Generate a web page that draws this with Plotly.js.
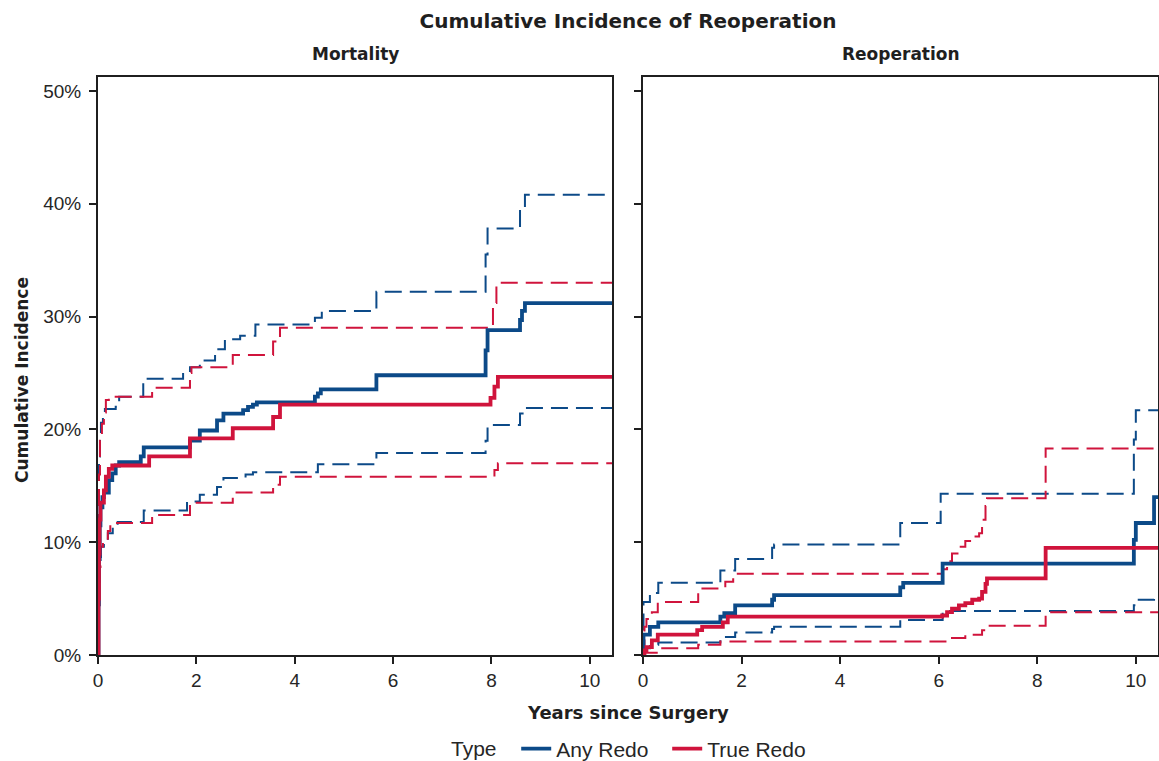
<!DOCTYPE html>
<html>
<head>
<meta charset="utf-8">
<script src="https://cdn.plot.ly/plotly-3.0.1.min.js"></script>
<style>html,body{margin:0;padding:0;background:#fff;}#chart{width:1159px;height:761px;}</style>
</head>
<body>
<div id="chart"></div>
<script>
// ---------- DATA (years since surgery, cumulative incidence in %) ----------
const panelTitles = ["Mortality", "Reoperation"];
const typeNames = ["Any Redo", "True Redo"];
const xTicks = [0, 2, 4, 6, 8, 10];
const yTicks = [0, 10, 20, 30, 40, 50];
const yTickText = ["0%", "10%", "20%", "30%", "40%", "50%"];

// Mortality – Any Redo
const mortAnyEstT = [0,0.01,0.02,0.035,0.05,0.09,0.12,0.22,0.29,0.36,0.43,0.87,0.93,1.87,2.07,2.42,2.55,2.95,3.05,3.15,3.23,4.41,4.47,4.53,5.66,7.88,7.92,8.58,8.62,8.68,10.45];
const mortAnyEstV = [0,4.5,8.5,11.5,13.1,14.0,14.4,15.5,16.1,16.8,17.1,17.6,18.4,19.0,19.9,20.8,21.4,21.7,22.0,22.2,22.4,22.9,23.2,23.55,24.8,27.0,28.8,29.7,30.5,31.2,31.2];
const mortAnyHiT = [0,0.01,0.02,0.04,0.06,0.1,0.14,0.36,0.43,0.92,1.73,1.87,2.07,2.38,2.58,2.89,3.2,4.41,4.55,5.66,7.88,7.92,8.58,8.68,10.45];
const mortAnyHiV = [0,10,17.6,19.3,20.6,21.4,21.8,22.0,22.9,24.5,25.0,25.5,26.1,27.1,28.0,28.3,29.3,29.9,30.5,32.2,35.5,37.8,39.5,40.8,40.8];
const mortAnyLoT = [0,0.01,0.02,0.04,0.06,0.12,0.2,0.3,0.4,0.93,1.81,2.07,2.42,2.55,3.0,3.15,4.47,5.66,7.88,7.92,8.58,8.68,10.45];
const mortAnyLoV = [0,3,6.5,8.5,9.6,10.3,10.8,11.3,11.8,12.8,13.6,14.2,14.9,15.7,16.0,16.2,16.9,17.9,19.0,20.4,21.4,21.9,21.9];

// Mortality – True Redo
const mortTrueEstT = [0,0.01,0.02,0.03,0.05,0.12,0.16,0.22,0.29,1.04,1.87,2.74,3.56,3.7,7.98,8.06,8.13,10.45];
const mortTrueEstV = [0,5,9,12,13.5,14.6,15.8,16.5,16.8,17.6,19.2,20.1,21.1,22.2,22.8,23.8,24.65,24.65];
const mortTrueHiT = [0,0.01,0.02,0.04,0.08,0.12,0.16,0.22,1.1,1.87,1.9,2.74,3.56,3.7,8.03,8.1,10.45];
const mortTrueHiV = [0,12,16,19,20.5,21.5,22.6,22.9,23.7,25.0,25.5,26.6,27.8,29.0,31.2,33.0,33.0];
const mortTrueLoT = [0,0.01,0.02,0.05,0.1,0.2,0.25,1.1,1.87,2.74,3.56,3.7,8.06,8.13,10.45];
const mortTrueLoV = [0,3,7.8,9.6,10.0,11.0,11.7,12.4,13.5,14.4,15.1,15.8,16.4,17.0,17.0];

// Reoperation – Any Redo
const reopAnyEstT = [0,0.01,0.14,0.31,1.57,1.65,1.87,2.62,2.66,5.22,5.28,6.08,9.96,10.0,10.37,10.45];
const reopAnyEstV = [0,1.8,2.5,2.9,3.4,3.7,4.4,4.9,5.3,6.0,6.4,8.1,10.2,11.7,14.0,14.0];
const reopAnyHiT = [0,0.01,0.14,0.31,1.57,1.87,2.62,2.66,5.22,6.04,9.96,10.0,10.45];
const reopAnyHiV = [0,4.7,5.5,6.4,7.5,8.5,9.5,9.8,11.7,14.3,19.1,21.7,21.7];
const reopAnyLoT = [0,0.01,0.14,0.31,1.57,1.65,1.87,2.62,2.66,5.22,6.08,9.96,10.0,10.37,10.45];
const reopAnyLoV = [0,0.6,0.9,1.1,1.4,1.6,2.0,2.3,2.5,3.1,3.9,4.4,4.9,5.1,5.1];

// Reoperation – True Redo
const reopTrueEstT = [0,0.03,0.07,0.18,0.3,1.1,1.2,1.62,1.72,6.07,6.17,6.27,6.41,6.54,6.68,6.82,6.88,6.95,6.98,8.17,10.45];
const reopTrueEstV = [0,0.4,0.7,1.3,1.8,2.2,2.5,2.9,3.4,3.5,3.8,4.1,4.4,4.6,4.9,5.0,5.6,6.3,6.8,9.5,9.5];
const reopTrueHiT = [0,0.03,0.07,0.18,0.3,1.12,1.67,1.83,6.07,6.17,6.27,6.41,6.54,6.68,6.82,6.88,6.95,6.98,8.17,10.45];
const reopTrueHiV = [0,2.5,3.2,3.8,4.7,5.9,6.5,7.2,7.6,8.3,9.0,9.6,10.1,10.5,10.8,12.0,13.2,13.9,18.3,18.3];
const reopTrueLoT = [0,0.03,0.3,1.12,1.57,6.27,6.54,6.88,6.95,8.17,10.45];
const reopTrueLoV = [0,0.2,0.6,0.9,1.2,1.5,1.8,2.2,2.6,3.8,3.8];

// ---------- STYLE ----------
const BLUE = '#0C4A88';
const RED = '#D0143C';
const INK = '#1f1f1f';
const BOLD = 'DejaVu Sans, sans-serif';
const REG = 'Liberation Sans, Arial, sans-serif';
const DASH = '17px,8px';

function step(x, y, color, dash, xa, ya, name, showLegend) {
  return {
    type: 'scatter', mode: 'lines', x: x, y: y, xaxis: xa, yaxis: ya,
    name: name, legendgroup: name, showlegend: !!showLegend,
    line: {shape: 'hv', color: color, width: dash ? 2 : 3.8, dash: dash ? DASH : 'solid'},
    hoverinfo: 'skip'
  };
}

const traces = [
  // Mortality panel
  step(mortAnyHiT, mortAnyHiV, BLUE, true, 'x', 'y', typeNames[0]),
  step(mortAnyLoT, mortAnyLoV, BLUE, true, 'x', 'y', typeNames[0]),
  step(mortTrueHiT, mortTrueHiV, RED, true, 'x', 'y', typeNames[1]),
  step(mortTrueLoT, mortTrueLoV, RED, true, 'x', 'y', typeNames[1]),
  step(mortAnyEstT, mortAnyEstV, BLUE, false, 'x', 'y', typeNames[0], true),
  step(mortTrueEstT, mortTrueEstV, RED, false, 'x', 'y', typeNames[1], true),
  // Reoperation panel
  step(reopAnyHiT, reopAnyHiV, BLUE, true, 'x2', 'y2', typeNames[0]),
  step(reopAnyLoT, reopAnyLoV, BLUE, true, 'x2', 'y2', typeNames[0]),
  step(reopTrueHiT, reopTrueHiV, RED, true, 'x2', 'y2', typeNames[1]),
  step(reopTrueLoT, reopTrueLoV, RED, true, 'x2', 'y2', typeNames[1]),
  step(reopAnyEstT, reopAnyEstV, BLUE, false, 'x2', 'y2', typeNames[0]),
  step(reopTrueEstT, reopTrueEstV, RED, false, 'x2', 'y2', typeNames[1])
];

const W = 1159, H = 761, ML = 98, MR = 1, MT = 77, MB = 106;
const PW = W - ML - MR, PH = H - MT - MB;
const leftDom = [0, (612 - ML) / PW];
const rightDom = [(643 - ML) / PW, 1];

function xAxis(dom, anchor) {
  return {
    domain: dom, anchor: anchor, range: [0, 10.45],
    tickmode: 'array', tickvals: xTicks, ticks: 'outside', ticklen: 7, tickwidth: 2, tickcolor: INK,
    showline: true, mirror: true, linecolor: INK, linewidth: 2,
    showgrid: false, zeroline: false, automargin: false,
    tickfont: {family: REG, size: 19, color: '#262626'}
  };
}
function yAxis(anchor, labels) {
  return {
    anchor: anchor, domain: [0, 1], range: [0, 51.24],
    tickmode: 'array', tickvals: yTicks, ticktext: yTickText, showticklabels: labels,
    ticks: 'outside', ticklen: 7, tickwidth: 2, tickcolor: INK, ticklabelstandoff: 4,
    showline: true, mirror: true, linecolor: INK, linewidth: 2,
    showgrid: false, zeroline: false, automargin: false,
    tickfont: {family: REG, size: 19, color: '#262626'}
  };
}

const layout = {
  width: W, height: H,
  margin: {l: ML, r: MR, t: MT, b: MB, pad: 0, autoexpand: false},
  paper_bgcolor: '#ffffff', plot_bgcolor: '#ffffff',
  title: {text: 'Cumulative Incidence of Reoperation', x: 0.5, xref: 'paper', y: 1 - 21 / H, yref: 'container', yanchor: 'middle', xanchor: 'center',
          font: {family: BOLD, size: 20, color: INK, weight: 'bold'}},
  xaxis: xAxis(leftDom, 'y'),
  yaxis: yAxis('x', true),
  xaxis2: xAxis(rightDom, 'y2'),
  yaxis2: yAxis('x2', false),
  showlegend: true,
  legend: {
    orientation: 'h', x: (449 - ML) / PW, xanchor: 'left', y: (655 - 749) / PH, yanchor: 'middle', yref: 'paper',
    title: {text: 'Type  ', side: 'left', font: {family: REG, size: 21, color: '#262626'}},
    font: {family: REG, size: 21, color: '#262626'},
    itemwidth: 30, entrywidth: 106, entrywidthmode: 'pixels', tracegroupgap: 0, bgcolor: 'rgba(0,0,0,0)'
  },
  annotations: [
    {text: panelTitles[0], xref: 'paper', yref: 'paper', x: (leftDom[0] + leftDom[1]) / 2, y: (655 - 54) / PH, xanchor: 'center', yanchor: 'middle', showarrow: false,
     font: {family: BOLD, size: 17, color: INK, weight: 'bold'}},
    {text: panelTitles[1], xref: 'paper', yref: 'paper', x: (rightDom[0] + rightDom[1]) / 2, y: (655 - 54) / PH, xanchor: 'center', yanchor: 'middle', showarrow: false,
     font: {family: BOLD, size: 17, color: INK, weight: 'bold'}},
    {text: 'Years since Surgery', xref: 'paper', yref: 'paper', x: 0.5, y: (655 - 712) / PH, xanchor: 'center', yanchor: 'middle', showarrow: false,
     font: {family: BOLD, size: 18, color: INK, weight: 'bold'}},
    {text: 'Cumulative Incidence', xref: 'paper', yref: 'paper', x: (22 - ML) / PW, y: (655 - 380) / PH, xanchor: 'center', yanchor: 'middle', textangle: -90, showarrow: false,
     font: {family: BOLD, size: 17, color: INK, weight: 'bold'}}
  ]
};

Plotly.newPlot('chart', traces, layout, {displayModeBar: false, staticPlot: true});
</script>
</body>
</html>
